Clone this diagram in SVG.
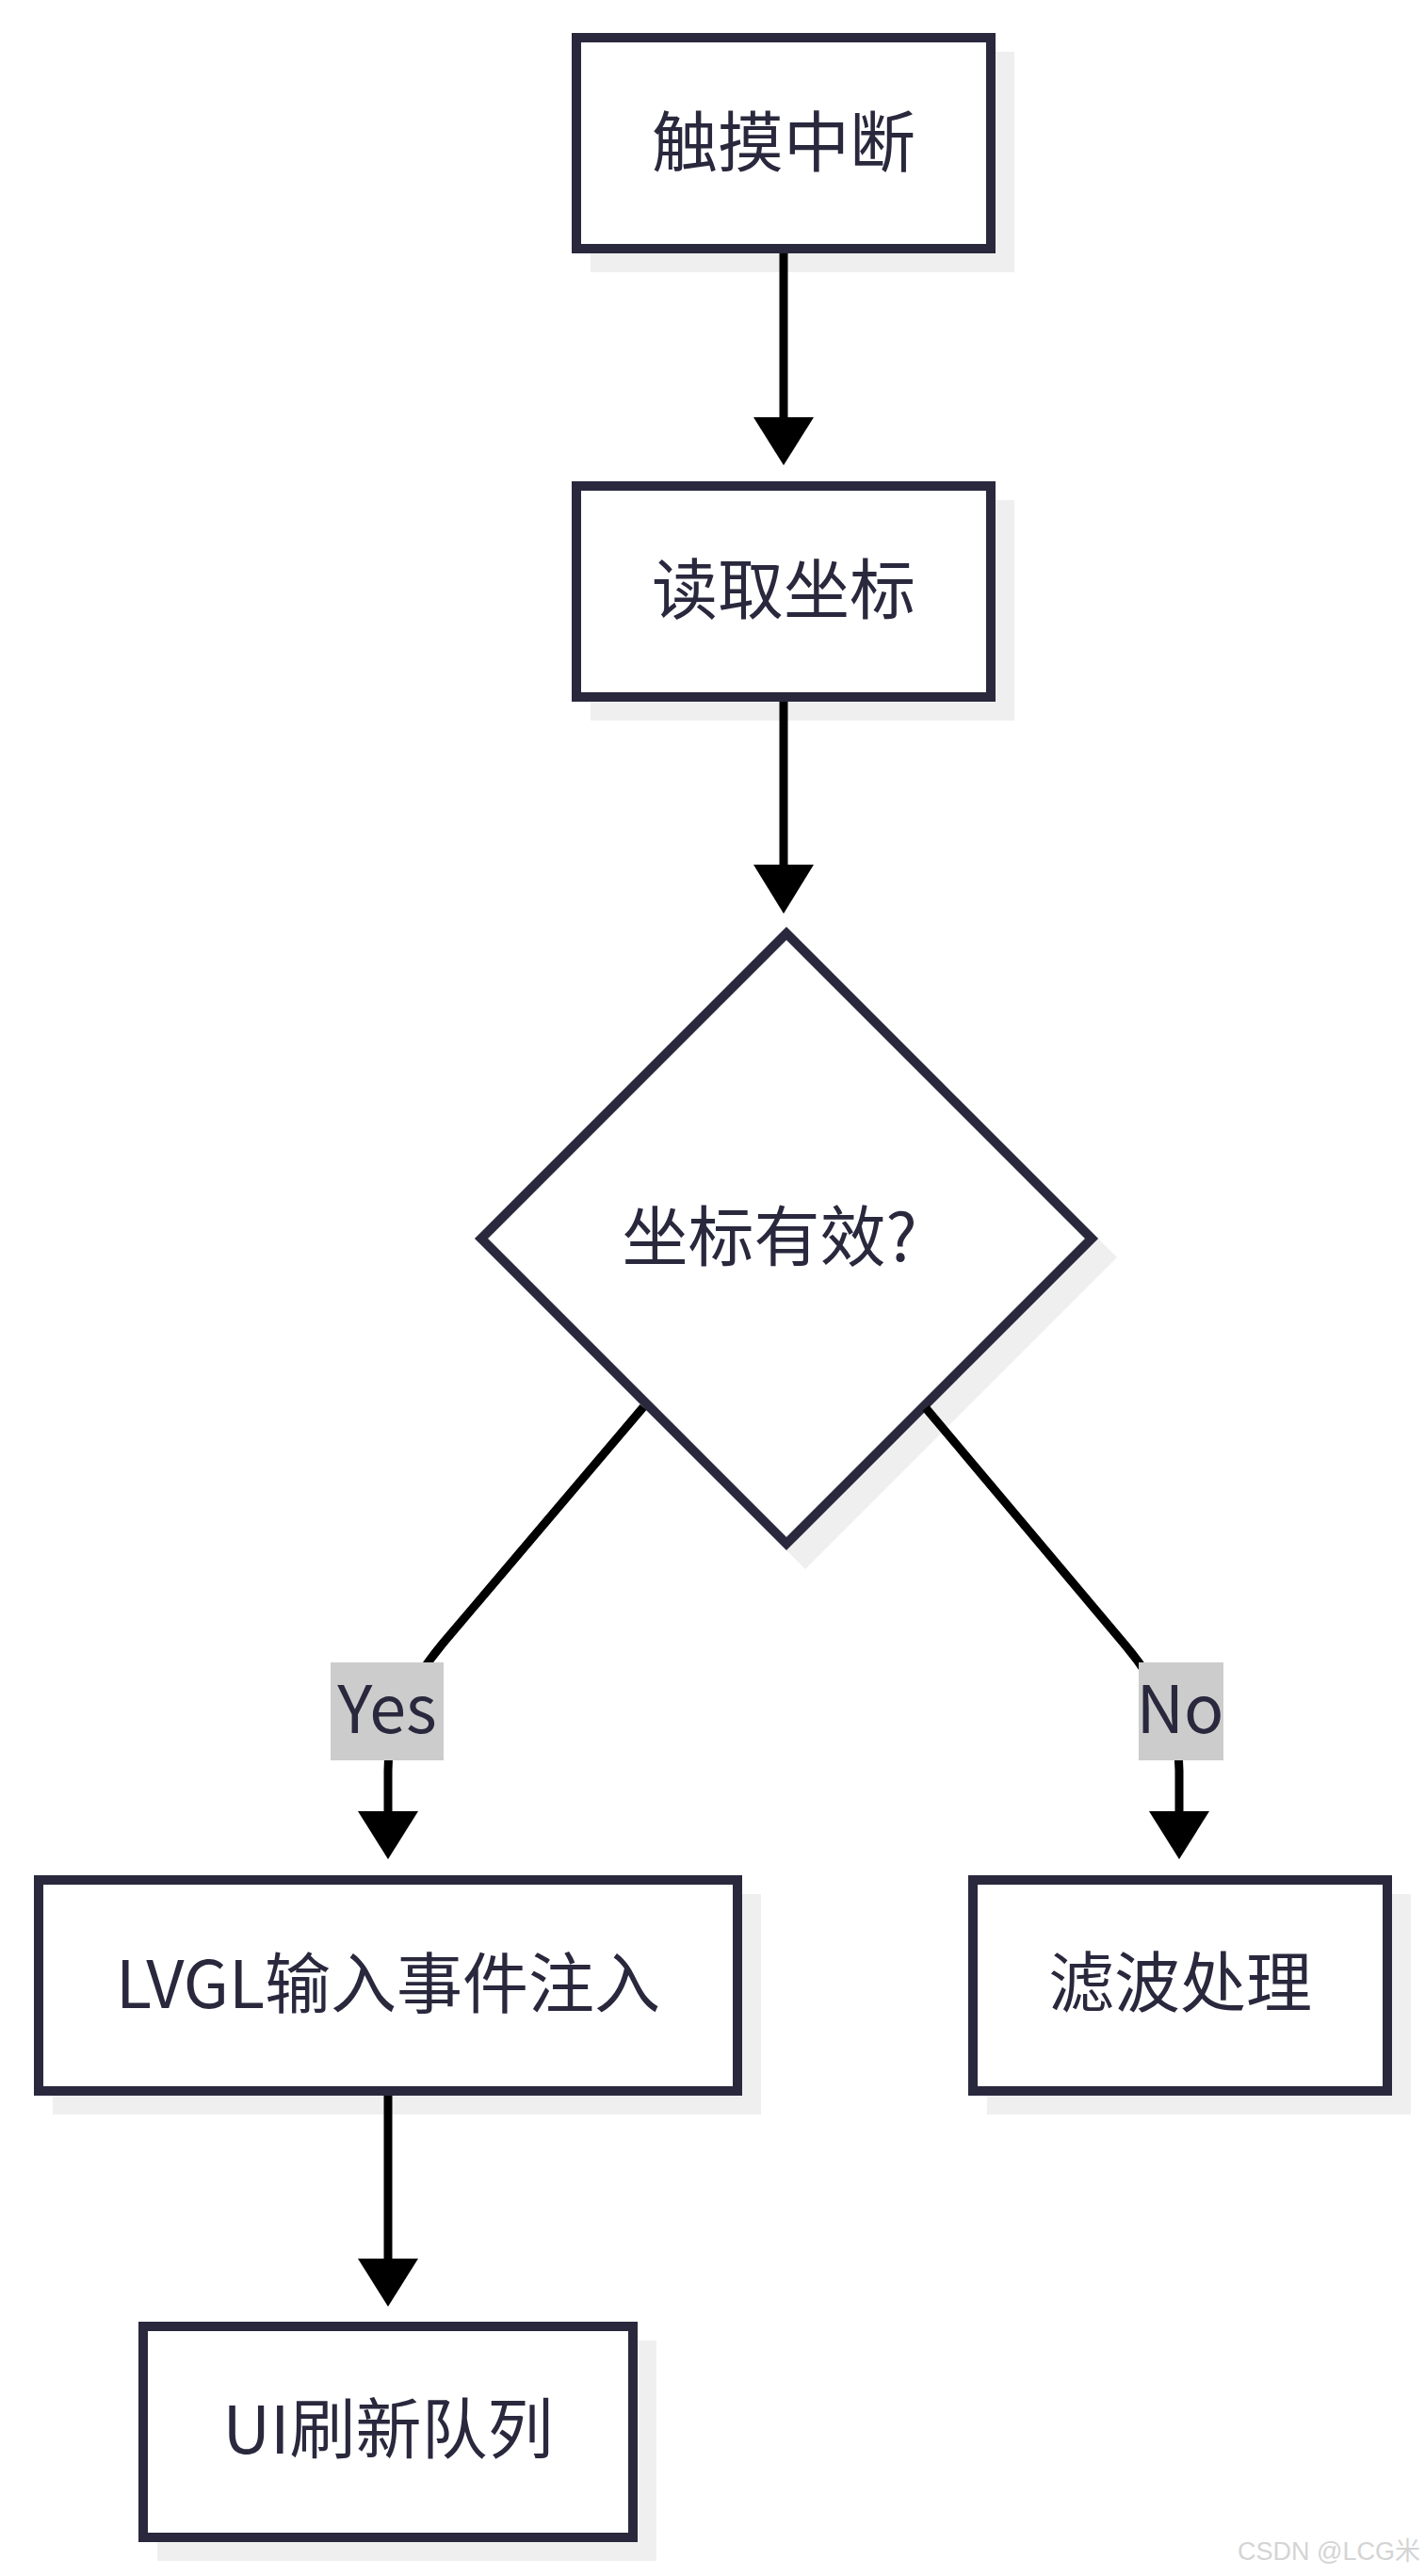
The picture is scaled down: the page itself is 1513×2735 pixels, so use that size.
<svg xmlns="http://www.w3.org/2000/svg" width="1513" height="2735" viewBox="0 0 1513 2735">
<style>
.shadow{fill:#efefef;stroke:none}
.node{fill:#ffffff;stroke:#29283d;stroke-width:10}
.lbl{font-family:"Noto Sans CJK SC","Noto Sans",sans-serif;font-size:70px;fill:#29283d;text-anchor:middle}
.edge{fill:none;stroke:#000000;stroke-width:9}
.head{fill:#000000}
.elbl{fill:#cccccc}
.wm{font-family:"Liberation Sans","Noto Sans CJK SC",sans-serif;font-size:27px;fill:#d4d4d4;text-anchor:end}
</style>
<rect width="1513" height="2735" fill="#ffffff"/>
<g id="node-touch">
  <rect class="shadow" x="627" y="55" width="450" height="234"/>
  <rect class="node" x="612" y="40" width="440" height="224"/>
  <text class="lbl" x="832" y="177">触摸中断</text>
</g>
<g id="node-read">
  <rect class="shadow" x="627" y="531" width="450" height="234"/>
  <rect class="node" x="612" y="516" width="440" height="224"/>
  <text class="lbl" x="832" y="652">读取坐标</text>
</g>
<g id="node-valid">
  <polygon class="shadow" points="855,1004 1186,1335 855,1666 524,1335"/>
  <polygon class="node" points="835,991 1159,1315 835,1639 511,1315"/>
  <text class="lbl" x="817" y="1339">坐标有效?</text>
</g>
<g id="node-lvgl">
  <rect class="shadow" x="56" y="2011" width="752" height="234"/>
  <rect class="node" x="41" y="1996" width="742" height="224"/>
  <text class="lbl" x="412" y="2132">LVGL输入事件注入</text>
</g>
<g id="node-filter">
  <rect class="shadow" x="1048" y="2011" width="450" height="234"/>
  <rect class="node" x="1033" y="1996" width="440" height="224"/>
  <text class="lbl" x="1253" y="2131">滤波处理</text>
</g>
<g id="node-ui">
  <rect class="shadow" x="167" y="2485" width="530" height="234"/>
  <rect class="node" x="152" y="2470" width="520" height="224"/>
  <text class="lbl" x="412" y="2605">UI刷新队列</text>
</g>
<g id="connectors">
  <path class="edge" d="M832,269 L832,446"/>
  <polygon class="head" points="800,443 864,443 832,494"/>
  <path class="edge" d="M832,745 L832,920"/>
  <polygon class="head" points="800,918 864,918 832,970"/>
  <path class="edge" d="M683,1494 L470,1745 Q412,1815 412,1880 L412,1926"/>
  <polygon class="head" points="380,1923 444,1923 412,1974"/>
  <path class="edge" d="M983,1495 L1195,1747 Q1252,1815 1252,1880 L1252,1926"/>
  <polygon class="head" points="1220,1923 1284,1923 1252,1974"/>
  <path class="edge" d="M412,2225 L412,2400"/>
  <polygon class="head" points="380,2398 444,2398 412,2449"/>
  <g id="label-yes">
    <rect class="elbl" x="351" y="1765" width="120" height="104"/>
    <text class="lbl" x="411" y="1840">Yes</text>
  </g>
  <g id="label-no">
    <rect class="elbl" x="1209" y="1765" width="90" height="104"/>
    <text class="lbl" x="1253" y="1840">No</text>
  </g>
</g>
<text class="wm" x="1508" y="2718">CSDN @LCG米</text>
</svg>
